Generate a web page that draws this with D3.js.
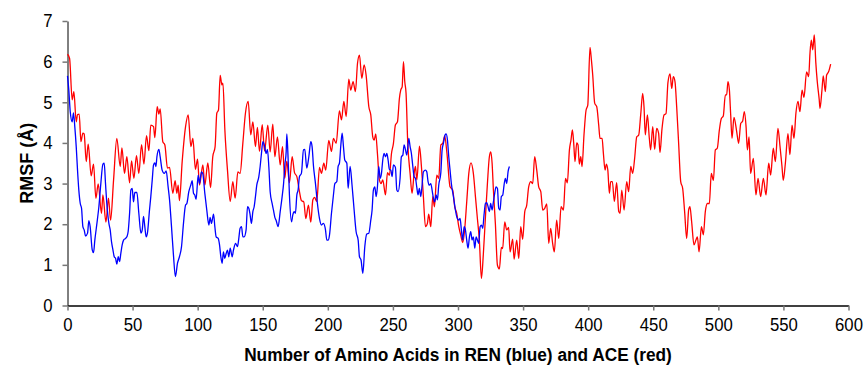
<!DOCTYPE html>
<html>
<head>
<meta charset="utf-8">
<script src="https://cdn.jsdelivr.net/npm/d3@7/dist/d3.min.js"></script>
<style>
  html, body { margin: 0; padding: 0; background: #fff; }
  svg { display: block; }
  .tick text { font-family: "Liberation Sans", Arial, sans-serif; font-size: 18px; fill: #000; }
  .axis-title { font-family: "Liberation Sans", Arial, sans-serif; font-size: 18px; font-weight: bold; fill: #000; }
</style>
</head>
<body>
<svg id="chart" width="868" height="367"></svg>
<script>
// Residue-wise RMSF (Å) of REN (blue) and ACE (red)
const renResidue = [0,1.0,2.1,3.6,4.6,5.6,6.7,7.7,8.7,9.8,10.8,11.8,12.8,13.9,15.4,16.4,17.4,19.0,20.0,21.0,22.6,24.1,25.6,27.2,28.2,29.2,30.2,31.8,32.8,33.8,34.9,35.9,36.9,37.9,39.0,40.0,41.0,42.0,43.1,44.6,45.6,46.6,47.7,48.7,49.7,50.7,51.7,53.3,54.8,56.4,57.4,58.4,59.4,60.4,61.4,63.0,64.0,65.1,66.1,67.1,67.9,68.7,70.2,71.2,72.7,74.3,75.8,77.3,78.4,79.9,81.4,82.9,84.5,86.0,87.6,89.1,90.7,91.7,93.2,94.8,95.8,96.8,97.8,98.8,100.4,101.4,102.9,103.9,105.5,107.0,108.6,109.6,110.6,112.2,113.2,114.2,115.8,116.8,117.8,118.8,119.8,120.8,121.9,122.9,123.9,125.0,126.5,127.5,129.1,130.6,131.6,132.6,133.7,134.7,135.7,137.2,138.3,139.3,140.3,141.3,142.4,143.4,144.4,145.4,147.0,148.0,149.0,150.1,151.6,152.6,153.6,154.7,155.7,157.2,158.2,159.3,160.3,161.8,163.4,164.9,166.0,167.0,168.0,168.5,169.5,170.5,172.1,173.1,174.1,175.1,176.2,177.2,178.2,179.7,181.3,182.3,183.8,185.4,186.9,187.9,189.0,190.5,192.0,193.6,195.1,196.6,198.2,199.2,200.2,201.3,202.8,204.3,205.4,206.9,207.9,208.9,210.0,211.0,212.0,213.0,214.6,215.6,217.1,218.6,220.2,221.7,223.3,224.3,225.5,226.9,228.4,229.9,231.5,233.0,234.0,235.0,236.1,237.1,238.1,239.1,240.2,241.2,242.2,243.2,244.3,245.3,246.3,247.3,248.4,249.4,250.4,251.9,253.0,254.0,255.5,256.5,257.6,258.6,259.6,260.7,262.2,263.2,264.2,265.3,266.3,267.3,268.3,269.3,270.3,271.4,272.4,273.4,275.0,276.0,277.0,278.0,279.1,280.1,281.1,282.1,283.2,284.2,285.2,286.8,287.8,288.8,290.1,290.9,291.9,292.9,293.9,294.9,296.5,298.0,299.0,300.6,301.6,302.6,303.6,304.7,305.7,306.7,307.7,308.8,309.8,310.8,311.8,312.9,313.9,314.9,315.9,317.0,318.0,319.0,320.0,321.1,322.1,323.1,324.1,325.1,326.2,327.2,328.2,329.2,330.3,331.3,332.3,333.3,334.4,335.4,336.4,337.4,338.5,339.5];
const renRmsf = [5.65,5.30,4.77,4.52,4.74,4.40,3.91,3.33,2.84,2.51,2.39,1.94,1.86,1.71,1.78,2.09,1.94,1.37,1.30,1.61,2.02,2.43,3.00,3.48,3.50,3.00,2.51,2.02,1.86,1.57,1.37,1.20,1.16,1.02,1.20,1.08,1.29,1.49,1.61,1.65,1.69,1.82,2.27,2.84,2.88,2.55,2.78,2.78,2.27,1.78,1.86,2.19,1.94,1.69,1.78,2.35,2.68,3.09,3.46,3.51,3.42,3.66,3.84,3.66,3.33,3.25,3.31,2.92,2.60,1.94,1.24,0.71,1.04,1.20,1.45,2.02,2.47,2.51,2.80,2.97,3.07,2.76,2.72,2.61,3.21,3.00,3.29,3.25,2.76,2.35,1.98,2.17,2.02,2.25,1.94,1.69,1.65,1.49,1.20,1.04,1.32,1.16,1.28,1.36,1.20,1.41,1.20,1.36,1.53,1.45,1.65,1.90,1.94,1.69,1.69,1.86,2.43,2.39,2.23,2.02,2.31,2.43,2.68,2.96,3.17,3.42,3.74,4.03,3.89,3.74,3.84,3.40,2.80,2.51,2.35,2.17,2.09,1.94,2.31,2.68,3.00,3.46,3.79,4.22,3.60,2.72,2.06,2.23,2.31,2.27,2.72,2.85,3.17,3.25,3.83,3.84,3.38,3.66,4.03,3.91,3.42,3.00,2.51,2.14,1.98,2.02,1.86,1.61,1.61,1.74,2.27,2.72,3.00,3.05,3.42,3.50,3.95,4.24,3.91,3.58,3.50,2.88,3.42,2.96,2.35,1.82,1.61,1.20,1.12,0.79,1.45,1.76,1.78,2.10,2.35,2.84,2.92,2.68,2.92,3.42,3.13,3.25,3.58,3.74,3.66,3.74,3.58,3.35,3.33,3.17,3.46,3.40,2.84,2.80,3.13,3.66,3.70,3.95,3.84,3.70,4.11,3.91,3.74,3.42,3.17,3.13,2.92,2.72,2.88,2.68,2.96,3.29,3.33,3.29,3.05,2.96,3.00,2.84,2.64,2.55,2.72,2.60,2.96,3.27,3.83,3.99,4.20,4.22,4.07,3.66,3.33,3.00,2.68,2.35,2.19,2.10,2.14,1.86,1.61,1.94,1.86,1.61,1.41,1.69,1.82,1.61,1.69,1.41,1.69,1.61,1.53,1.94,1.98,1.90,2.23,2.51,2.53,2.43,2.31,2.51,2.35,2.55,2.76,2.92,2.88,2.39,2.35,2.68,2.72,2.97,3.13,3.00,3.30,3.42];

const aceResidue = [0,1.6,3.6,4.9,6.7,7.7,9.0,10.3,11.8,12.8,14.4,15.9,18.2,20.0,21.8,23.6,26.1,27.2,29.5,31.5,33.1,35.4,37.9,40.5,41.8,43.8,45.6,47.7,49.2,51.0,53.0,54.8,56.9,58.7,60.7,62.5,64.0,66.1,67.1,68.9,70.2,71.2,73.2,74.8,76.8,78.4,80.9,82.7,84.0,85.0,86.0,88.1,90.7,92.7,94.8,96.3,98.3,99.9,101.4,104.0,105.5,107.8,109.9,111.6,113.4,114.7,116.0,117.3,118.6,119.4,120.9,122.9,125.0,127.0,128.8,130.9,132.6,134.7,136.7,138.8,140.8,142.4,144.4,145.9,147.5,149.6,151.4,153.9,155.7,157.7,159.3,161.3,163.4,165.2,166.9,168.5,170.5,172.6,174.4,176.2,178.2,179.7,181.5,183.1,185.1,186.9,188.5,189.8,191.5,193.6,195.1,196.9,198.4,200.7,202.8,204.3,206.4,208.9,210.5,212.3,214.1,216.1,217.6,219.4,221.2,222.8,224.3,226.1,227.9,229.4,231.5,233.0,234.5,235.6,236.8,238.1,239.6,240.9,242.2,244.3,245.8,247.3,248.9,250.4,251.9,253.5,255.0,256.0,257.1,258.1,259.1,260.1,261.4,263.2,264.7,266.3,267.3,268.4,270.4,271.9,273.4,275.0,276.5,277.5,279.1,280.6,281.9,283.7,285.2,286.8,288.3,289.8,291.5,293.9,295.9,297.5,299.0,300.6,302.1,303.7,305.2,306.7,308.3,310.0,311.8,313.4,314.9,316.4,318.0,319.5,321.1,322.6,324.1,325.2,326.2,327.2,328.7,330.3,331.8,333.3,334.3,335.9,337.4,338.9,340.0,342.0,343.1,345.1,346.7,348.2,349.7,351.3,352.8,354.3,355.9,357.4,358.9,360.5,362.0,363.6,365.1,366.6,368.2,369.7,371.2,372.7,374.0,375.8,377.4,379.2,381.0,382.6,384.0,385.6,386.8,387.9,388.9,389.9,391.2,392.2,393.2,394.3,395.3,396.8,398.4,399.7,401.4,402.5,403.5,405.0,406.6,408.1,409.1,410.7,411.7,413.0,414.0,415.1,416.3,417.3,418.6,420.1,421.9,423.5,424.5,425.8,427.6,429.6,431.1,432.7,434.2,435.7,437.3,438.8,440.4,441.9,442.9,443.9,445.5,447.0,448.0,449.6,451.1,452.6,454.1,455.2,456.7,458.3,459.8,461.3,462.9,464.2,465.4,466.7,468.0,469.5,471.1,472.6,474.1,475.7,477.2,478.2,479.5,481.3,482.8,483.9,485.2,487.0,488.5,490.0,491.6,493.1,494.6,496.2,497.7,499.2,500.8,502.3,503.8,505.4,506.4,507.4,508.5,509.5,510.5,512.0,514.1,515.6,517.2,518.7,520.0,521.3,522.3,523.6,524.8,526.9,528.9,530.5,532.5,534.6,536.6,538.7,540.2,542.2,543.8,545.8,547.4,548.9,549.9,551.5,553.5,555.0,556.6,558.1,559.6,561.2,562.7,564.3,565.8,567.8,569.4,570.4,571.4,572.5,573.7,574.9,576.0,577.5,578.1,579.6,580.6,582.2,583.2,584.7,586.3];
const aceRmsf = [6.18,6.08,5.06,5.26,4.52,4.70,4.71,4.03,4.24,4.22,3.54,3.97,3.19,3.48,2.64,2.99,2.27,2.72,2.05,2.64,2.10,3.09,4.11,3.42,3.88,3.25,3.66,3.02,3.56,3.13,3.69,3.25,3.96,3.48,4.18,3.81,4.44,4.40,4.13,4.89,4.71,4.84,4.03,3.95,3.38,3.40,2.76,3.07,2.76,2.96,2.58,3.54,4.40,4.69,3.91,4.11,3.35,3.60,2.96,3.46,2.96,3.51,2.90,3.66,3.91,4.73,4.81,5.66,5.43,5.47,4.32,3.33,2.56,3.05,2.64,3.29,3.25,3.99,4.73,5.02,4.20,4.52,3.91,4.38,3.79,4.45,3.80,4.44,3.78,4.46,3.66,4.15,3.46,3.91,3.13,3.55,3.02,3.66,3.27,3.17,2.80,2.58,2.55,2.14,2.47,2.05,2.60,2.66,2.56,3.40,3.25,3.50,3.33,4.06,3.79,4.11,3.99,4.79,4.57,5.02,4.65,5.57,5.30,5.51,5.26,5.96,6.16,5.59,5.92,5.67,4.89,4.69,4.15,4.07,4.22,3.74,3.09,3.00,3.09,2.72,3.27,3.20,3.74,3.99,4.44,4.52,5.10,5.30,5.38,6.00,5.51,5.22,3.99,3.25,2.76,3.25,3.42,3.09,3.92,3.42,2.68,1.94,2.02,2.25,1.94,2.68,2.43,3.21,3.13,3.95,3.99,4.17,3.75,2.92,2.84,2.43,2.27,1.94,1.73,1.55,1.90,2.55,3.25,3.51,3.25,2.68,2.14,1.61,0.67,1.28,2.19,3.00,3.66,3.78,3.50,2.84,2.02,0.99,0.90,1.43,1.40,2.06,1.86,1.92,1.32,1.63,1.14,1.61,1.16,1.94,1.63,2.31,2.47,2.92,3.05,3.00,3.66,3.33,2.92,2.80,2.35,2.39,2.50,1.53,1.90,1.53,1.32,2.10,1.65,2.43,2.35,3.13,3.02,3.83,4.07,4.32,3.99,3.54,4.00,3.95,3.48,3.66,3.42,4.20,4.81,4.93,6.35,6.04,5.67,4.98,4.89,4.44,4.11,4.11,3.74,3.33,3.48,3.33,2.76,3.05,3.05,2.56,3.02,2.31,2.27,2.84,2.35,3.05,2.80,3.42,3.25,3.62,4.15,4.19,4.71,5.22,4.89,4.20,4.69,4.11,3.83,4.40,3.84,4.36,4.24,3.76,4.34,4.69,4.72,5.49,5.70,5.34,5.63,5.51,4.89,3.99,3.05,2.88,2.31,1.65,2.35,2.43,2.06,1.49,1.61,1.69,1.32,1.94,1.74,2.31,2.51,2.51,3.25,3.08,3.83,3.87,4.32,4.60,4.66,5.18,5.18,5.51,5.30,4.69,4.11,4.63,4.28,3.99,4.48,4.54,4.77,4.40,3.83,4.15,3.25,3.62,2.72,3.13,2.68,3.13,2.72,3.50,3.21,3.87,3.54,4.36,3.91,3.42,3.08,3.50,4.23,3.71,4.44,4.11,4.73,5.02,4.77,5.30,5.12,5.75,5.63,6.20,6.53,6.29,6.66,5.97,5.51,5.07,4.85,5.30,5.65,5.26,5.67,5.75,5.94];

const xTicks = [0,50,100,150,200,250,300,350,400,450,500,550,600];
const yTicks = [0,1,2,3,4,5,6,7];
const xTitle = "Number of Amino Acids in REN (blue) and ACE (red)";
const yTitle = "RMSF (Å)";

const svg = d3.select("#chart");
const plot = { left: 67.5, right: 848.5, top: 21, bottom: 305.5 };
const narrow = 0.93; // horizontal squeeze of the tick label glyphs

const x = d3.scaleLinear().domain([0, 600]).range([plot.left, plot.right]);
const y = d3.scaleLinear().domain([0, 7]).range([plot.bottom, plot.top]);

// axes
const xAxis = svg.append("g")
  .attr("transform", `translate(0,${plot.bottom})`)
  .call(d3.axisBottom(x).tickValues(xTicks).tickFormat(d3.format("d"))
    .tickSize(5).tickSizeOuter(0).tickPadding(8));
const yAxis = svg.append("g")
  .attr("transform", `translate(${plot.left},0)`)
  .call(d3.axisLeft(y).tickValues(yTicks).tickFormat(d3.format("d"))
    .tickSize(5).tickSizeOuter(0).tickPadding(10));

xAxis.select(".domain").attr("stroke", "#000").attr("stroke-width", 1.5);
yAxis.select(".domain").attr("stroke", "#000").attr("stroke-width", 1);
svg.selectAll(".tick line").attr("stroke", "#777").attr("stroke-width", 1.5);

xAxis.selectAll(".tick text").attr("transform", `scale(${narrow},1)`);
yAxis.selectAll(".tick text")
  .attr("x", -15 / narrow)
  .attr("transform", `scale(${narrow},1)`);

// series
const line = d3.line()
  .x(d => x(d[0]))
  .y(d => y(d[1]))
  .curve(d3.curveMonotoneX);

const ace = aceResidue.map((r, i) => [r, aceRmsf[i]]);
const ren = renResidue.map((r, i) => [r, renRmsf[i]]);

svg.append("path").datum(ace)
  .attr("fill", "none").attr("stroke", "#FF0000").attr("stroke-width", 1.3)
  .attr("stroke-linejoin", "round").attr("d", line);
svg.append("path").datum(ren)
  .attr("fill", "none").attr("stroke", "#0000FF").attr("stroke-width", 1.3)
  .attr("stroke-linejoin", "round").attr("d", line);

// titles
svg.append("text").attr("class", "axis-title")
  .attr("transform", `translate(${(plot.left + plot.right) / 2},361) scale(0.96,1)`)
  .attr("text-anchor", "middle").text(xTitle);
svg.append("text").attr("class", "axis-title")
  .attr("transform", `translate(33,${(plot.top + plot.bottom) / 2}) rotate(-90)`)
  .attr("text-anchor", "middle").text(yTitle);
</script>
</body>
</html>
